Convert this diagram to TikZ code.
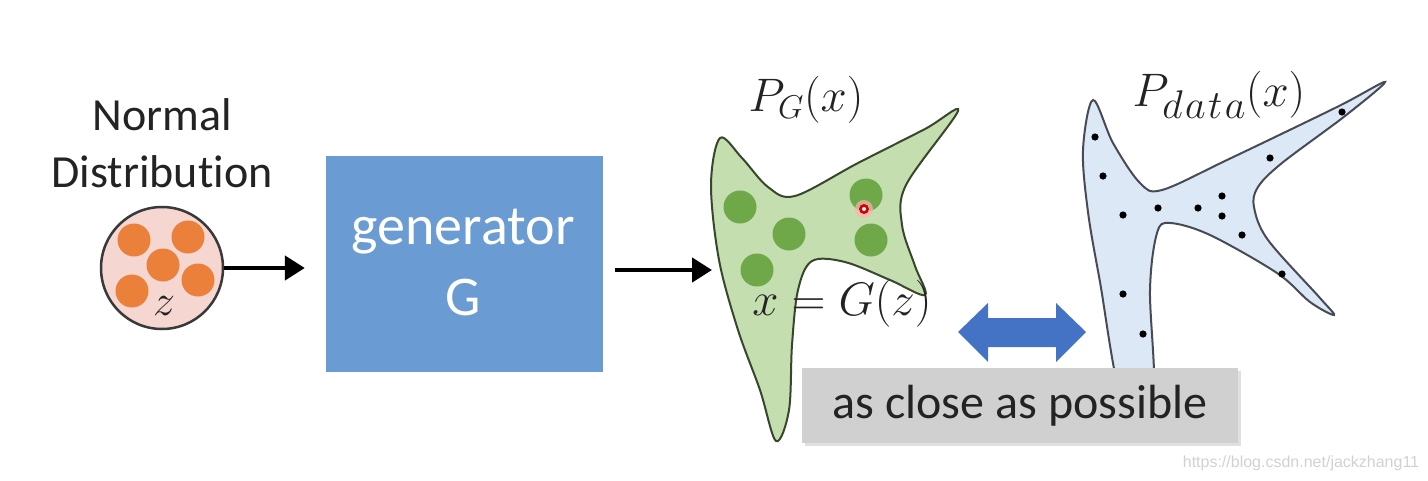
\RequirePackage{fix-cm}
\documentclass[tikz,border=0pt]{standalone}
\usepackage{fontspec}
\setmainfont{Carlito}[Ligatures=NoCommon]
\newfontfamily\wmfont{Liberation Sans}
\usetikzlibrary{arrows.meta}
\definecolor{pinkfill}{RGB}{245,214,208}
\definecolor{orangedot}{RGB}{234,128,58}
\definecolor{genblue}{RGB}{107,155,211}
\definecolor{greenfill}{RGB}{197,222,176}
\definecolor{greendot}{RGB}{110,168,72}
\definecolor{greenline}{RGB}{55,70,45}
\definecolor{bluefill}{RGB}{220,232,245}
\definecolor{blueline}{RGB}{70,75,85}
\definecolor{arrowblue}{RGB}{68,114,196}
\definecolor{boxgray}{RGB}{208,208,208}
\definecolor{textdark}{RGB}{35,35,35}
\tikzset{
  bigtext/.style={font=\fontsize{46}{50}\selectfont, text=textdark, inner sep=0pt},
  mathtext/.style={font=\fontsize{47}{50}\selectfont, text=textdark, inner sep=0pt},
  odot/.style={fill=orangedot, draw=none},
  gdot/.style={fill=greendot, draw=none},
  bdot/.style={fill=black},
  blackarrow/.style={line width=4.5pt, -{Triangle[length=20pt,width=24pt]}},
}
\begin{document}
\begin{tikzpicture}[x=1pt,y=-1pt]
\useasboundingbox (0,0) rectangle (1428,480);

% Normal distribution
\node[bigtext] (normal) at (162,115) {Normal};
\node[bigtext] (distr) at (162,172) {Distribution};
\node[circle, draw=textdark!90, line width=2.5pt, fill=pinkfill, minimum size=122pt, inner sep=0pt] (zc) at (162,268) {};
\fill[odot] (134,240) circle (16.5);
\fill[odot] (188,237) circle (16.5);
\fill[odot] (163,265) circle (16.5);
\fill[odot] (132,291) circle (16.5);
\fill[odot] (198,280) circle (16.5);
\node[font=\fontsize{44}{46}\selectfont, text=textdark, inner sep=0pt] (zlab) at (164,306) {$z$};

% generator box
\node[fill=genblue, minimum width=277pt, minimum height=216pt, inner sep=0pt] (gen) at (464.5,264) {};
\node[font=\fontsize{56}{60}\selectfont, text=white, inner sep=0pt] (genname) at (463,232) {generator};
\node[font=\fontsize{56}{60}\selectfont, text=white, inner sep=0pt] (genG) at (463,298) {G};

\draw[blackarrow, shorten >=21pt] (zc.east) -- (gen.west |- zc.east);
\coordinate (pgin) at (712,270);
\draw[blackarrow, shorten <=12pt] (gen.east |- pgin) -- (pgin);

% P_G blob
\draw[draw=greenline, line width=2pt, fill=greenfill] plot[smooth cycle, tension=0.55] coordinates {
 (720,138) (711,185) (719,260) (738,330) (760,390) (776,441) (789,410) (792,345) (798,290) (812,261)
 (845,262) (890,280) (925,295) (915,266) (902,225) (906,185) (958,111) (925,129) (858,163) (795,196)
 (768,187) (742,158)};
\fill[gdot] (740,207) circle (16.5);
\fill[gdot] (789,234) circle (16.5);
\fill[gdot] (757,270) circle (16.5);
\fill[gdot] (866,195) circle (16.5);
\fill[gdot] (871,240) circle (16.5);
\fill[red!30, opacity=0.7] (864,209) circle (9);
\fill[red!85!black] (864,209) circle (5);
\fill[white] (864,209) circle (2);
\node[mathtext] (pglab) at (806,100) {$P_G(x)$};
\node[mathtext] (xgz) at (842,304) {$x=G(z)$};

% P_data blob
\draw[draw=blueline, line width=2pt, fill=bluefill] plot[smooth cycle, tension=0.55] coordinates {
 (1093,100) (1113,143) (1140,183) (1162,190) (1227,160) (1337,107) (1385,82) (1345,116) (1282,163)
 (1258,187) (1254,207) (1268,240) (1320,298) (1334,315) (1310,302) (1277,273) (1210,235) (1170,223)
 (1157,233) (1150,290) (1153,400) (1122,400) (1100,282) (1088,212) (1083,150)};
\foreach \p in {(1095,137),(1103,176),(1123,215),(1158,208),(1198,208),(1222,196),(1222,216),(1242,235),(1270,158),(1342,112),(1282,274),(1123,294),(1143,334)}
  \fill[bdot] \p circle (3.6);
\node[mathtext] (pdlab) at (1219,95) {$P_{\hbox{\fontsize{40}{40}\selectfont$d\kern2.5pt a\kern2.5pt t\kern2.5pt a$}}(x)$};

% double arrow
\fill[arrowblue] (958,332) -- (988,303) -- (988,318) -- (1056,318) -- (1056,303) -- (1086,332)
  -- (1056,362) -- (1056,347) -- (988,347) -- (988,362) -- cycle;

% gray box
\fill[black!12] (805,371) rectangle (1241,446);
\node[fill=boxgray, minimum width=436pt, minimum height=75pt, inner sep=0pt, font=\fontsize{48}{52}\selectfont, text=textdark] (close) at (1020,405.5) {as close as possible};

% watermark
\node[font=\wmfont\fontsize{16}{18}\selectfont, text=black!18, inner sep=0pt] (wm) at (1301,463) {https://blog.csdn.net/jackzhang11};
\end{tikzpicture}
\end{document}
